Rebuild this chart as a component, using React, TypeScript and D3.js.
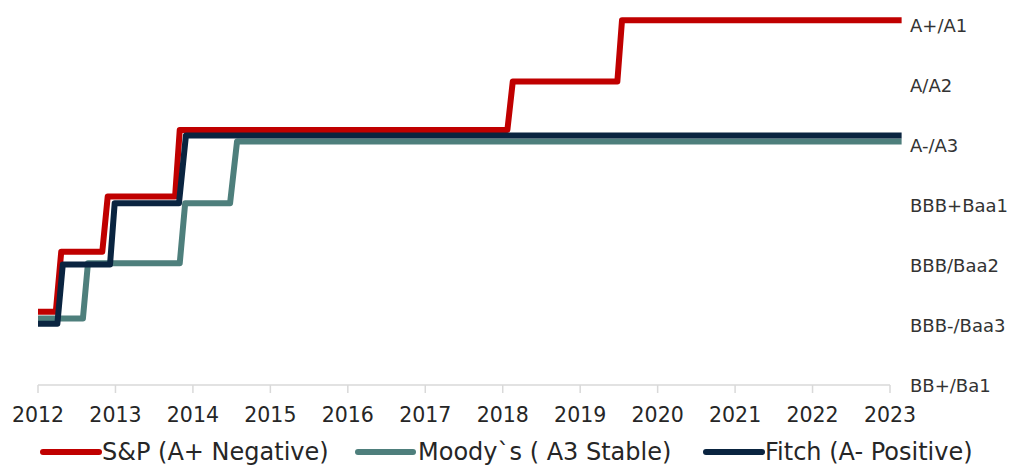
import React from "react";
import * as d3 from "d3";

const years = [2012, 2013, 2014, 2015, 2016, 2017, 2018, 2019, 2020, 2021, 2022, 2023];
const ratingLabels = ["BB+/Ba1", "BBB-/Baa3", "BBB/Baa2", "BBB+Baa1", "A-/A3", "A/A2", "A+/A1"];

const seriesNames = ["S&P (A+ Negative)", "Moody`s ( A3 Stable)", "Fitch (A- Positive)"];
const seriesColors = ["#C00000", "#4E7F7C", "#0A2440"];

const spDates = [2012.0, 2012.23, 2012.3, 2012.83, 2012.9, 2013.77, 2013.83, 2018.06, 2018.13, 2019.48, 2019.54, 2023.15];
const spValues = [1.22, 1.22, 2.22, 2.22, 3.14, 3.14, 4.25, 4.25, 5.06, 5.06, 6.08, 6.08];

const moodysDates = [2012.0, 2012.58, 2012.645, 2013.83, 2013.9, 2014.48, 2014.57, 2023.15];
const moodysValues = [1.11, 1.11, 2.03, 2.03, 3.03, 3.03, 4.06, 4.06];

const fitchDates = [2012.0, 2012.25, 2012.32, 2012.93, 2012.99, 2013.82, 2013.91, 2023.15];
const fitchValues = [1.02, 1.02, 2.01, 2.01, 3.03, 3.03, 4.16, 4.16];

const W = 1015;
const H = 465;

export default function App() {
  const x = d3.scaleLinear().domain([2012, 2023]).range([38, 890]);
  const y = d3.scaleLinear().domain([0, 6]).range([385, 25]);

  const series = [
    { dates: spDates, values: spValues },
    { dates: moodysDates, values: moodysValues },
    { dates: fitchDates, values: fitchValues },
  ];

  const line = d3
    .line<[number, number]>()
    .x((d) => x(d[0]))
    .y((d) => y(d[1]));

  const legendPos = [
    { x1: 43, x2: 99, tx: 102 },
    { x1: 358, x2: 413, tx: 418 },
    { x1: 706, x2: 762, tx: 765 },
  ];

  const fontFamily = "Verdana, 'DejaVu Sans', sans-serif";

  return (
    <svg
      width={W}
      height={H}
      style={{ position: "absolute", left: 0, top: 0, background: "#fff" }}
    >
      {/* x axis */}
      <line x1={x(2012)} x2={x(2023)} y1={y(0)} y2={y(0)} stroke="#D9D9D9" strokeWidth={1.5} />
      {years.map((yr) => (
        <g key={yr}>
          <line x1={x(yr)} x2={x(yr)} y1={y(0)} y2={y(0) + 8} stroke="#D9D9D9" strokeWidth={1.5} />
          <text
            x={x(yr)}
            y={422}
            textAnchor="middle"
            fontFamily={fontFamily}
            fontSize={20.5}
            fill="#262626"
          >
            {yr}
          </text>
        </g>
      ))}

      {/* rating labels */}
      {ratingLabels.map((lab, i) => (
        <text
          key={lab}
          x={910}
          y={y(i)}
          dominantBaseline="central"
          fontFamily={fontFamily}
          fontSize={18}
          fill="#333333"
        >
          {lab}
        </text>
      ))}

      {/* lines */}
      {series.map((s, i) => {
        const pts = s.dates.map((d, j) => [d, s.values[j]] as [number, number]);
        return (
          <path
            key={i}
            d={line(pts) || ""}
            fill="none"
            stroke={seriesColors[i]}
            strokeWidth={6}
            strokeLinejoin="round"
            strokeLinecap="butt"
          />
        );
      })}

      {/* legend */}
      {seriesNames.map((name, i) => (
        <g key={name}>
          <line
            x1={legendPos[i].x1}
            x2={legendPos[i].x2}
            y1={452}
            y2={452}
            stroke={seriesColors[i]}
            strokeWidth={6}
            strokeLinecap="round"
          />
          <text
            x={legendPos[i].tx}
            y={460}
            fontFamily={fontFamily}
            fontSize={24}
            fill="#262626"
          >
            {name}
          </text>
        </g>
      ))}
    </svg>
  );
}
